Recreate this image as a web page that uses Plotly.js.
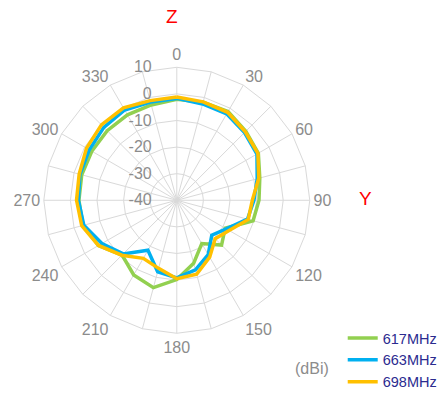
<!DOCTYPE html>
<html>
<head>
<meta charset="utf-8">
<script src="https://cdn.plot.ly/plotly-3.0.1.min.js"></script>
<style>html,body{margin:0;padding:0;background:#fff;}#chart{width:448px;height:400px;}</style>
</head>
<body>
<div id="chart"></div>
<script>
var angles = ["0","15","30","45","60","75","90","105","120","135","150","165","180","195","210","225","240","255","270","285","300","315","330","345"];
var angleLabels = ["0","","30","","60","","90","","120","","150","","180","","210","","240","","270","","300","","330",""];
var seriesNames = ["617MHz","663MHz","698MHz"];
var gain617 = [-2.0,-1.8,-1.5,-3.3,-4.6,-7.7,-9.1,-10.3,-19.0,-16.2,-21.2,-15.5,-10.2,-6.0,-7.6,-10.9,-6.0,-3.5,-3.2,-3.0,-3.1,-3.0,-2.9,-2.9];
var gain663 = [-1.7,-2.5,-2.5,-4.0,-5.2,-8.7,-11.0,-12.5,-18.5,-21.4,-16.4,-12.9,-10.8,-12.2,-18.3,-11.5,-7.5,-3.8,-3.0,-2.3,-2.0,-1.2,-0.8,-1.8];
var gain698 = [-1.2,-1.7,-1.8,-3.6,-4.8,-8.1,-11.6,-12.2,-17.3,-19.6,-15.3,-11.2,-10.5,-13.5,-14.8,-10.8,-6.0,-3.0,-2.3,-2.0,-0.8,0.1,0.1,-1.2];
var radialTicks = [-40,-30,-20,-10,0,10];
var radialLabels = ["-40","-30","-20","-10","0","10"];

var colors = ["#92D050","#00B0F0","#FFC000"];
var allGains = [gain617, gain663, gain698];

function closed(arr){ return arr.concat([arr[0]]); }

var traces = allGains.map(function(g,i){
  return {
    type:'scatterpolar', mode:'lines',
    r: closed(g), theta: closed(angles),
    name: seriesNames[i],
    line:{color:colors[i], width:3.5},
    hoverinfo:'skip'
  };
});

var pad = '\u00a0\u00a0\u00a0\u00a0\u00a0';
var gray = '#8c8c8c';
var layout = {
  width:448, height:400,
  margin:{l:0,r:0,t:0,b:0},
  paper_bgcolor:'#fff',
  showlegend:true,
  font:{family:'Liberation Sans, Arial, sans-serif', color:gray},
  polar:{
    domain:{x:[0.0978,0.6915], y:[0.1668,0.8318]},
    gridshape:'linear',
    bgcolor:'#fff',
    angularaxis:{
      type:'category',
      categoryorder:'array', categoryarray:angles,
      direction:'clockwise', rotation:90,
      tickmode:'array', tickvals:angles, ticktext:angleLabels,
      showgrid:true, gridcolor:'#d9d9d9', gridwidth:1,
      showline:true, linecolor:'#d9d9d9', linewidth:1,
      ticks:'', tickfont:{size:16, color:gray}
    },
    radialaxis:{
      range:[-40,10], tickmode:'array', tickvals:radialTicks,
      ticktext: radialLabels.map(function(s){ return s + pad; }),
      angle:90, side:'counterclockwise', tickangle:90,
      showline:false, ticks:'',
      showgrid:true, gridcolor:'#d9d9d9', gridwidth:1,
      tickfont:{size:16, color:gray}
    }
  },
  legend:{
    x:0.765, y:0.005, xanchor:'left', yanchor:'bottom',
    bgcolor:'rgba(0,0,0,0)',
    font:{size:14.5, color:'#2b2b8f'},
    itemwidth:30, tracegroupgap:0
  },
  annotations:[
    {text:'Z', x:172, y:16, xref:'paper', yref:'paper', xanchor:'center', yanchor:'middle', showarrow:false, font:{size:19, color:'#ff0000'}},
    {text:'Y', x:365, y:198, xref:'paper', yref:'paper', xanchor:'center', yanchor:'middle', showarrow:false, font:{size:19, color:'#ff0000'}},
    {text:'(dBi)', x:312, y:368, xref:'paper', yref:'paper', xanchor:'center', yanchor:'middle', showarrow:false, font:{size:16, color:gray}}
  ]
};
// convert pixel-like annotation positions into paper fractions
layout.annotations.forEach(function(a){ a.x = a.x/448; a.y = 1 - a.y/400; });

Plotly.newPlot('chart', traces, layout, {staticPlot:true, displayModeBar:false});
</script>
</body>
</html>
